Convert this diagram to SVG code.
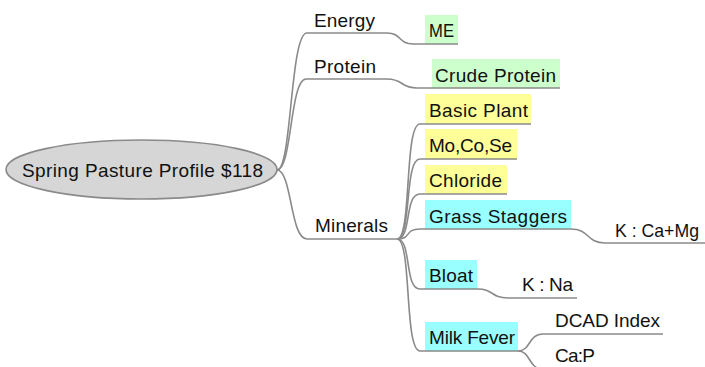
<svg xmlns="http://www.w3.org/2000/svg" width="705" height="367" viewBox="0 0 705 367">
<style>
  text { font-family: "Liberation Sans", Arial, sans-serif; font-size: 19px; fill: #111; }
  .edge { fill: none; stroke: #8a8a8a; stroke-width: 1.6; }
  .ul { stroke: #8a8a8a; stroke-width: 1.6; }
  .green { fill: #ccffcc; }
  .yellow { fill: #ffff99; }
  .cyan { fill: #99ffff; }
</style>
<rect width="705" height="367" fill="#ffffff"/>
<g id="connectors">
  <path class="edge" d="M277,170 C292,170 290,33 307,33"/>
  <path class="edge" d="M277,170 C292,170 290,79 306,79"/>
  <path class="edge" d="M277,170 C292,170 290,239 307,239"/>
  <path class="edge" d="M387,33 C402,33 398,44 413,44 H425"/>
  <path class="edge" d="M387,79 C404,79 400,88 417,88 H432"/>
  <path class="edge" d="M397,239 C412,239 404,124 420,124 H425"/>
  <path class="edge" d="M397,239 C412,239 404,159 420,159 H425"/>
  <path class="edge" d="M397,239 C412,239 404,194 420,194 H425"/>
  <path class="edge" d="M397,239 C412,239 404,229 420,229 H425"/>
  <path class="edge" d="M397,239 C412,239 404,289 420,289 H425"/>
  <path class="edge" d="M397,239 C412,239 404,351 420,351 H425"/>
  <path class="edge" d="M571,229 C590,229 586,243 605,243"/>
  <path class="edge" d="M477,289 C495,289 490,298 508,298"/>
  <path class="edge" d="M518,351 C531,351 528,334 543,334"/>
  <path class="edge" d="M518,351 C531,351 528,369 543,369"/>
</g>
<g id="root">
  <ellipse cx="141.5" cy="169.5" rx="135.5" ry="29.5" fill="#d6d6d6" stroke="#8a8a8a" stroke-width="1.6"/>
  <text x="22" y="177" textLength="241" lengthAdjust="spacing">Spring Pasture Profile $118</text>
</g>
<g id="energy">
  <text x="314" y="27" textLength="61" lengthAdjust="spacing">Energy</text>
  <line class="ul" x1="307" y1="33" x2="387" y2="33"/>
</g>
<g id="protein">
  <text x="314" y="73" textLength="62" lengthAdjust="spacing">Protein</text>
  <line class="ul" x1="306" y1="79" x2="387" y2="79"/>
</g>
<g id="minerals">
  <text x="315" y="232" textLength="73" lengthAdjust="spacing">Minerals</text>
  <line class="ul" x1="307" y1="239" x2="397" y2="239"/>
</g>
<g id="me">
  <rect class="green" x="425" y="15" width="33" height="29"/>
  <text x="429" y="37" textLength="25" lengthAdjust="spacingAndGlyphs">ME</text>
  <line class="ul" x1="425" y1="44" x2="458" y2="44"/>
</g>
<g id="crude-protein">
  <rect class="green" x="432" y="59" width="128" height="29"/>
  <text x="435" y="82" textLength="121" lengthAdjust="spacing">Crude Protein</text>
  <line class="ul" x1="432" y1="88" x2="560" y2="88"/>
</g>
<g id="basic-plant">
  <rect class="yellow" x="425" y="94" width="106" height="30"/>
  <text x="429" y="117" textLength="99" lengthAdjust="spacing">Basic Plant</text>
  <line class="ul" x1="425" y1="124" x2="531" y2="124"/>
</g>
<g id="mo-co-se">
  <rect class="yellow" x="425" y="129" width="92" height="30"/>
  <text x="429" y="152" textLength="83" lengthAdjust="spacing">Mo,Co,Se</text>
  <line class="ul" x1="425" y1="159" x2="517" y2="159"/>
</g>
<g id="chloride">
  <rect class="yellow" x="425" y="165" width="82" height="29"/>
  <text x="429" y="187" textLength="73" lengthAdjust="spacing">Chloride</text>
  <line class="ul" x1="425" y1="194" x2="507" y2="194"/>
</g>
<g id="grass-staggers">
  <rect class="cyan" x="425" y="200" width="146" height="29"/>
  <text x="429" y="223" textLength="138" lengthAdjust="spacing">Grass Staggers</text>
  <line class="ul" x1="425" y1="229" x2="571" y2="229"/>
</g>
<g id="k-ca-mg">
  <text x="615" y="237" textLength="84" lengthAdjust="spacingAndGlyphs">K : Ca+Mg</text>
  <line class="ul" x1="605" y1="243" x2="705" y2="243"/>
</g>
<g id="bloat">
  <rect class="cyan" x="425" y="260" width="52" height="29"/>
  <text x="429" y="282" textLength="44" lengthAdjust="spacing">Bloat</text>
  <line class="ul" x1="425" y1="289" x2="477" y2="289"/>
</g>
<g id="k-na">
  <text x="522" y="291" textLength="51" lengthAdjust="spacing">K : Na</text>
  <line class="ul" x1="508" y1="298" x2="577" y2="298"/>
</g>
<g id="milk-fever">
  <rect class="cyan" x="425" y="322" width="93" height="29"/>
  <text x="429" y="344" textLength="86" lengthAdjust="spacing">Milk Fever</text>
  <line class="ul" x1="425" y1="351" x2="518" y2="351"/>
</g>
<g id="dcad-index">
  <text x="555" y="327" textLength="105" lengthAdjust="spacing">DCAD Index</text>
  <line class="ul" x1="543" y1="334" x2="663" y2="334"/>
</g>
<g id="ca-p">
  <text x="555" y="362" textLength="40" lengthAdjust="spacing">Ca:P</text>
  <line class="ul" x1="543" y1="369" x2="600" y2="369"/>
</g>
</svg>
